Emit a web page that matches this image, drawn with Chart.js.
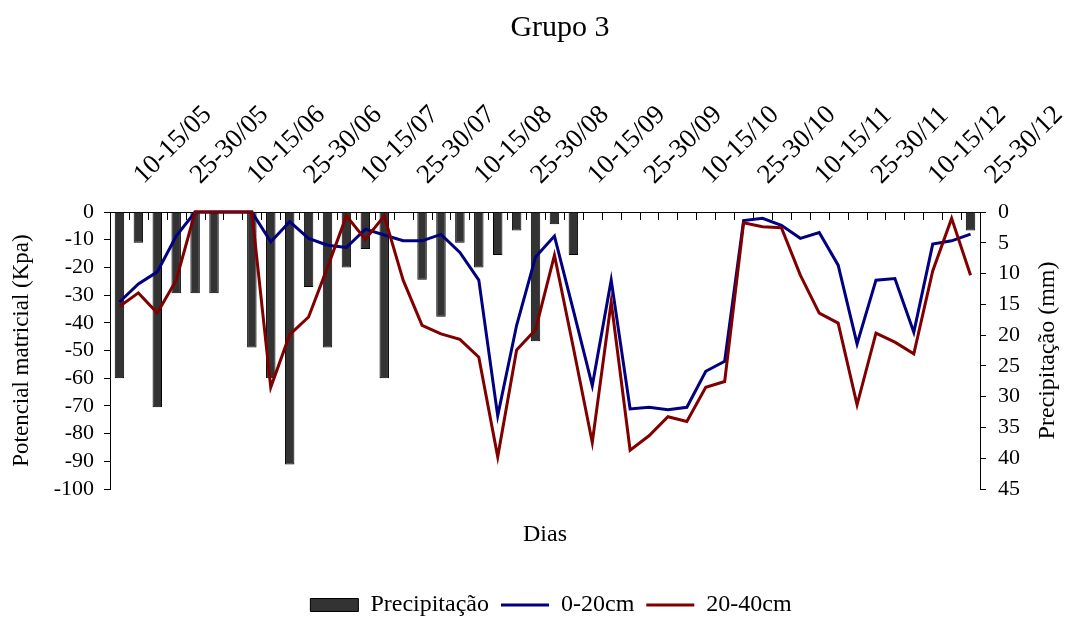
<!DOCTYPE html>
<html>
<head>
<meta charset="utf-8">
<script src="https://cdn.jsdelivr.net/npm/chart.js@4.4.1/dist/chart.umd.min.js"></script>
<style>
  html, body { margin: 0; padding: 0; background: #fff; }
  #wrap { width: 1072px; height: 617px; }
</style>
</head>
<body>
<div id="wrap"><canvas id="chart"></canvas></div>
<script>
// Categories (46 days), label shown every 3rd
const categories = [
  '10-15/05', '', '', '25-30/05', '', '', '10-15/06', '', '', '25-30/06', '', '',
  '10-15/07', '', '', '25-30/07', '', '', '10-15/08', '', '', '25-30/08', '', '',
  '10-15/09', '', '', '25-30/09', '', '', '10-15/10', '', '', '25-30/10', '', '',
  '10-15/11', '', '', '25-30/11', '', '', '10-15/12', '', '', '25-30/12'
];

// Precipitação (mm) - right axis
const precipitation = [
  27, 5, 31.7, 13.2, 13.2, 13.2, null, 22, 27, 41, 12.2, 22,
  9, 6, 27, null, 11, 17, 5, 9, 7, 3, 21, 2,
  7, null, null, null, null, null, null, null, null, null, null, null,
  null, null, null, null, null, null, null, null, null, 3
];

// Potencial matricial (Kpa) 0-20cm
const soil0to20 = [
  -32.5, -26, -21.6, -8.7, 0, 0, 0, 0, -10.8, -3.5, -9.5, -12,
  -12.8, -6.2, -8.3, -10.4, -10.4, -8.1, -14.6, -24.6, -73.6, -40.9, -16.2, -8.7,
  -35.5, -62.7, -24.6, -71.1, -70.5, -71.4, -70.5, -57.5, -53.9, -3.1, -2.3, -4.8,
  -9.5, -7.4, -19.2, -47.6, -24.6, -24, -43.4, -11.6, -10.4, -8
];

// Potencial matricial (Kpa) 20-40cm
const soil20to40 = [
  -34.1, -29.2, -36.5, -24.6, 0, 0, 0, 0, -63.3, -44.3, -37.9, -20,
  -1.4, -9.9, -1.4, -24.6, -40.9, -44, -46, -52.4, -88.4, -49.8, -42.5, -15.6,
  -49, -83.2, -32.5, -86, -80.8, -73.9, -75.6, -63.3, -61.2, -3.9, -5.3, -5.7,
  -22.8, -36.5, -40.1, -69.6, -43.7, -47, -51.2, -21.3, -2.3, -22.8
];

const FONT = "'Liberation Serif', 'Times New Roman', serif";
Chart.defaults.font.family = FONT;
Chart.defaults.color = '#000';

// small inward ticks under the top category axis
const topTicks = {
  id: 'topTicks',
  beforeDatasetsDraw(chart) {
    const ctx = chart.ctx;
    const x = chart.scales.x;
    const top = chart.chartArea.top;
    const step = x.getPixelForValue(1) - x.getPixelForValue(0);
    const start = x.getPixelForValue(0) - step / 2;
    ctx.save();
    ctx.strokeStyle = '#000';
    ctx.lineWidth = 1;
    ctx.beginPath();
    for (let i = 0; i <= categories.length; i++) {
      const px = Math.round(start + i * step) + 0.5;
      ctx.moveTo(px, top);
      ctx.lineTo(px, top + 8);
    }
    ctx.stroke();
    ctx.restore();
  }
};

// right axis title reads bottom-to-top like the left one
const rightTitle = {
  id: 'rightTitle',
  afterDraw(chart) {
    const ctx = chart.ctx;
    const area = chart.chartArea;
    const y2 = chart.scales.y2;
    ctx.save();
    ctx.translate(y2.right - 24, (area.top + area.bottom) / 2);
    ctx.rotate(-Math.PI / 2);
    ctx.font = '24px ' + FONT;
    ctx.fillStyle = '#000';
    ctx.textAlign = 'center';
    ctx.textBaseline = 'middle';
    ctx.fillText('Precipitação (mm)', 0, 0);
    ctx.restore();
  }
};

// nudge title and legend to where the original had them
const boxNudge = {
  id: 'boxNudge',
  beforeDraw(chart) {
    if (chart._nudged) return;
    chart._nudged = true;
    if (chart.titleBlock) {
      chart.titleBlock.left += 48;
    }
    if (chart.legend) {
      chart.legend.top += 10;
      chart.legend.bottom += 10;
      chart.legend.left += 30;
    }
  }
};

new Chart(document.getElementById('chart'), {
  data: {
    labels: categories,
    datasets: [
      {
        type: 'bar',
        label: 'Precipitação',
        data: precipitation,
        yAxisID: 'y2',
        backgroundColor: '#333333',
        borderColor: '#000',
        borderWidth: 1,
        barPercentage: 0.5,
        categoryPercentage: 1,
        pointStyle: 'rect',
        order: 3
      },
      {
        type: 'line',
        label: '0-20cm',
        data: soil0to20,
        yAxisID: 'y',
        borderColor: '#000080',
        backgroundColor: '#000080',
        borderWidth: 3,
        pointRadius: 0,
        tension: 0,
        clip: false,
        pointStyle: 'line',
        order: 2
      },
      {
        type: 'line',
        label: '20-40cm',
        data: soil20to40,
        yAxisID: 'y',
        borderColor: '#800000',
        backgroundColor: '#800000',
        borderWidth: 3,
        pointRadius: 0,
        tension: 0,
        clip: false,
        pointStyle: 'line',
        order: 1
      }
    ]
  },
  options: {
    responsive: true,
    maintainAspectRatio: false,
    animation: false,
    events: [],
    layout: { padding: 0 },
    plugins: {
      title: {
        display: true,
        text: 'Grupo 3',
        font: { size: 30, weight: 'normal' },
        color: '#000',
        padding: { top: 10, bottom: 0 }
      },
      legend: {
        position: 'bottom',
        labels: {
          usePointStyle: true,
          pointStyleWidth: 48,
          boxHeight: 13,
          padding: 12,
          font: { size: 24 },
          color: '#000',
          sort: (a, b) => a.datasetIndex - b.datasetIndex
        }
      },
      tooltip: { enabled: false }
    },
    scales: {
      x: {
        position: 'top',
        offset: true,
        grid: { display: false, drawTicks: false },
        border: { display: true, color: '#000', width: 1 },
        ticks: {
          autoSkip: false,
          maxRotation: 45,
          minRotation: 45,
          padding: 21,
          labelOffset: 42,
          font: { size: 27 },
          color: '#000'
        },
        afterFit(scale) { scale.height = 166; }
      },
      x2: {
        axis: 'x',
        type: 'category',
        position: 'bottom',
        grid: { display: false, drawTicks: false },
        border: { display: false },
        ticks: { display: false },
        title: {
          display: true,
          text: 'Dias',
          font: { size: 24 },
          color: '#000',
          padding: { top: 0, bottom: 22 }
        },
        afterFit(scale) { scale.height = 82; }
      },
      y: {
        position: 'left',
        min: -100,
        max: 0,
        ticks: { stepSize: 10, autoSkip: false, padding: 10, font: { size: 22 }, color: '#000' },
        grid: { drawOnChartArea: false, tickLength: 6, color: '#000', tickColor: '#000' },
        border: { color: '#000', width: 1 },
        title: {
          display: true,
          text: 'Potencial matricial (Kpa)',
          font: { size: 23 },
          color: '#000',
          padding: { top: 8, bottom: 0 }
        },
        afterFit(scale) { scale.width = 110; }
      },
      y2: {
        position: 'right',
        min: 0,
        max: 45,
        reverse: true,
        ticks: { stepSize: 5, autoSkip: false, padding: 12, font: { size: 22 }, color: '#000' },
        grid: { drawOnChartArea: false, tickLength: 6, color: '#000', tickColor: '#000' },
        border: { color: '#000', width: 1 },
        afterFit(scale) { scale.width = 92; }
      }
    }
  },
  plugins: [topTicks, rightTitle, boxNudge]
});
</script>
</body>
</html>
